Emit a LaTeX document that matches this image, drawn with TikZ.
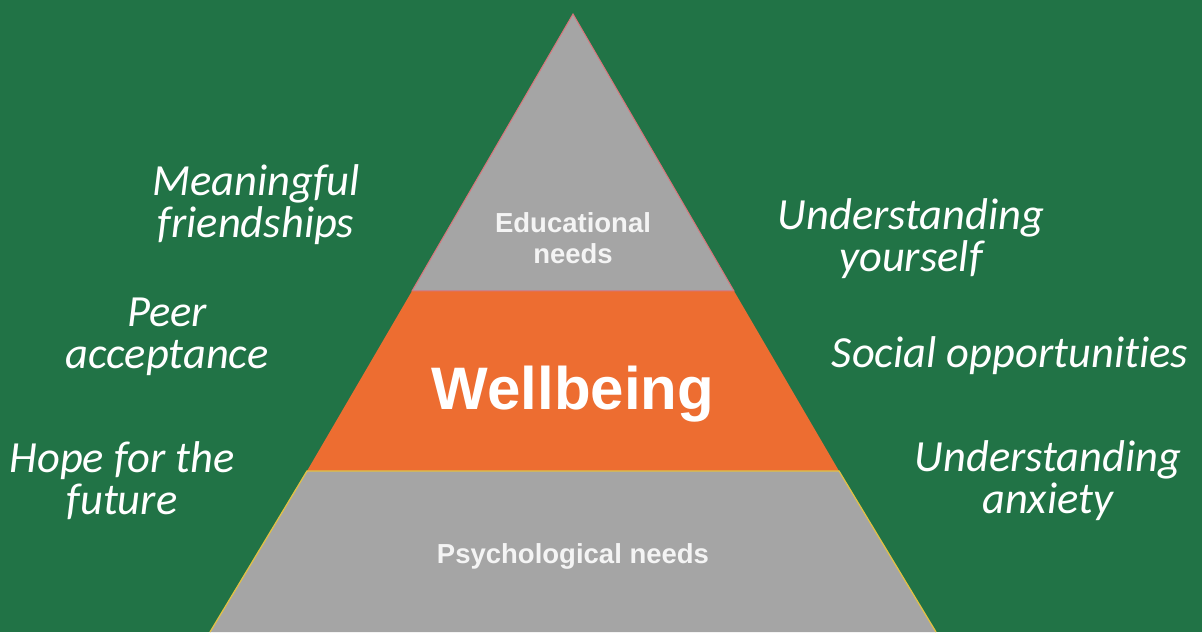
\documentclass[tikz,border=0pt]{standalone}
\usepackage{fontspec}
\setmainfont{Liberation Sans}
\newfontfamily\labelfont[Ligatures={NoCommon}]{Carlito}
\definecolor{bggreen}{HTML}{217346}
\definecolor{pyrgray}{HTML}{A5A5A5}
\definecolor{pyrorange}{HTML}{ED6D31}
\definecolor{edgered}{HTML}{D9737A}
\definecolor{edgegold}{HTML}{E2C044}
\definecolor{softwhite}{HTML}{F4F4F4}
\tikzset{
  sidelabel/.style={text=white, font=\labelfont\itshape\fontsize{44.5}{42}\selectfont, align=center, inner sep=0pt},
  tierlabel/.style={text=softwhite, font=\bfseries\fontsize{27.5}{31}\selectfont, align=center, inner sep=0pt},
}
\begin{document}
\begin{tikzpicture}[x=1pt,y=1pt]
\fill[bggreen] (0,0) rectangle (1202,632);
\useasboundingbox (0,0) rectangle (1202,632);
% pyramid tiers
\coordinate (apex) at (573,618);
\coordinate (t1l) at (412,341);
\coordinate (t1r) at (734,341);
\coordinate (t2l) at (307,161);
\coordinate (t2r) at (839,161);
\coordinate (bl) at (210,0);
\coordinate (br) at (936,0);
\fill[pyrorange] (t1l) -- (t1r) -- (t2r) -- (t2l) -- cycle;
\filldraw[fill=pyrgray, draw=edgered, line width=1pt] (apex) -- (t1r) -- (t1l) -- cycle;
\filldraw[fill=pyrgray, draw=edgegold, line width=1.3pt] (bl) -- (t2l) -- (t2r) -- (br);
% tier texts
\node[tierlabel] (edu) at (573,394) {Educational\\needs};
\node[text=white, font=\bfseries\fontsize{60}{60}\selectfont, inner sep=0pt] (well) at (573,238) {Wellbeing};
\node[tierlabel] (psy) at (573,76) {Psychological needs};
% side labels
\node[sidelabel] (mf) at (256,427) {Meaningful\\friendships};
\node[sidelabel] (pa) at (167,295) {Peer\\acceptance};
\node[sidelabel] (hf) at (122,151) {Hope for the\\future};
\node[sidelabel] (uy) at (911,393) {Understanding\\yourself};
\node[sidelabel] (so) at (1010,276) {Social opportunities};
\node[sidelabel] (ua) at (1048,151) {Understanding\\anxiety};
\end{tikzpicture}
\end{document}
